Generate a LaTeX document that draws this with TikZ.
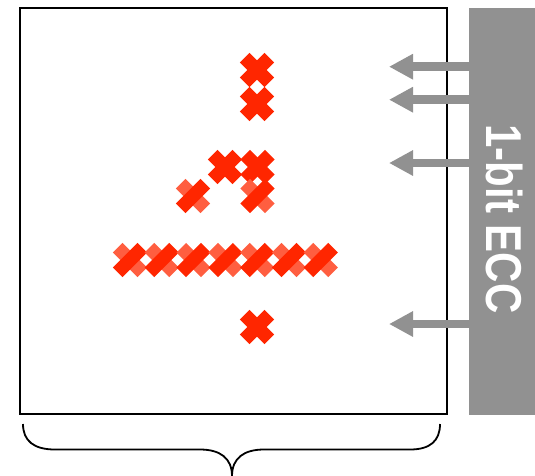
\documentclass[tikz,border=0pt]{standalone}
\usepackage{fontspec}
\setmainfont{Liberation Sans}
\usetikzlibrary{arrows.meta}
\definecolor{xred}{HTML}{FF2600}
\definecolor{xlight}{HTML}{FF5E40}
\definecolor{eccgray}{HTML}{919191}
\begin{document}
\begin{tikzpicture}[x=1pt,y=-1pt,
  xbar/.style={line width=13.6pt, line cap=butt, draw=xred},
  xbarlight/.style={line width=13.6pt, line cap=butt, draw=xlight},
  cross/.pic={\draw[xbar] (-12.3,-12.3) -- (12.3,12.3); \draw[xbar] (-12.3,12.3) -- (12.3,-12.3);},
  shadedcross/.pic={\draw[xbarlight] (-12.3,-12.3) -- (12.3,12.3); \draw[xbar] (-12.3,12.3) -- (12.3,-12.3);},
  eccarrow/.style={draw=eccgray, line width=8.8pt, -{Triangle[length=24pt,width=24pt]}},
  membox/.style={draw=black, line width=1.6pt, fill=white, minimum width=427pt, minimum height=406pt, inner sep=0pt},
  eccbar/.style={fill=eccgray, minimum width=66pt, minimum height=407pt, inner sep=0pt},
  ecctext/.style={text=white, font=\fontsize{42}{42}\bfseries\selectfont, inner sep=0pt},
  brace/.style={draw=black, line width=1.8pt}]
\useasboundingbox (0,0) rectangle (535,475);
% memory box
\node[membox] (mem) at (233.5,211) {};
% ECC bar
\node[eccbar] (ecc) at (502,211.5) {};
\node[ecctext, rotate=-90, yscale=1.2] (ecclabel) at (505,219) {1-bit ECC};
% arrows (drawn over the box border)
\coordinate (t1) at (389,66.7);
\coordinate (t2) at (389,99.7);
\coordinate (t3) at (389,163);
\coordinate (t4) at (389,324);
\foreach \t in {t1,t2,t3,t4} \draw[eccarrow] (ecc.west |- \t) -- (\t);
% error marks
\pic at (257,70) {cross};
\pic at (257,104) {cross};
\pic at (225,167) {cross};
\pic at (257.5,167) {cross};
\pic at (193,196) {shadedcross};
\pic at (257.5,196) {shadedcross};
\foreach \i in {0,...,6} \pic at ({130+31.8*\i},260) {shadedcross};
\pic at (257,327) {cross};
% brace
\draw[brace] (23,424) .. controls (23,441) and (34,449.5) .. (55,449.5) -- (200,449.5)
  .. controls (220,449.5) and (232,458) .. (232,476);
\draw[brace] (232,476) .. controls (232,458) and (244,449.5) .. (264,449.5) -- (410,449.5)
  .. controls (430,449.5) and (440,441) .. (440,424);
\end{tikzpicture}
\end{document}
